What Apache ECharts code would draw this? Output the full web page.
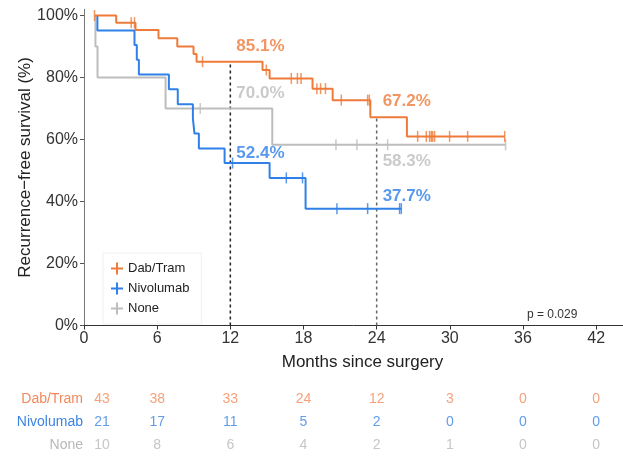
<!DOCTYPE html>
<html>
<head>
<meta charset="utf-8">
<script src="https://cdn.jsdelivr.net/npm/echarts@6/dist/echarts.min.js"></script>
<style>html,body{margin:0;padding:0;background:#fff}#c{width:623px;height:456px}</style>
</head>
<body>
<div id="c"></div>
<script>
// ---------- data ----------
const seriesNames = ['Dab/Tram', 'Nivolumab', 'None'];

const dabTimes = [0.9, 2.64, 4.22, 6.11, 7.65, 8.98, 9.23, 14.64, 15.22, 18.74, 20.39, 23.48, 26.48, 34.5];
const dabSurv  = [100, 97.7, 95.3, 92.7, 90.0, 87.6, 85.1, 82.4, 79.7, 76.4, 72.7, 67.2, 61.0, 61.0];
const dabCensor = [0.86, 3.87, 4.14, 9.72, 14.95, 17.0, 17.5, 17.8, 19.1, 19.4, 19.8, 21.1, 23.26, 23.4, 27.36, 28.07, 28.34, 28.48, 28.59, 28.75, 29.98, 31.46, 34.5];

const nivoTimes = [1.1, 1.1, 4.14, 4.33, 4.5, 6.96, 7.69, 8.93, 9.06, 9.42, 11.53, 15.22, 18.17, 26.02];
const nivoSurv  = [100, 95.2, 90.5, 85.7, 81.0, 76.2, 71.4, 66.7, 61.9, 57.1, 52.4, 47.6, 37.7, 37.7];
const nivoCensor = [12.18, 16.59, 17.92, 20.74, 23.26, 25.88, 26.02];

const noneTimes = [0.94, 0.94, 1.11, 6.69, 15.44, 34.57];
const noneSurv  = [100, 90, 80, 70, 58.3, 58.3];
const noneCensor = [9.53, 20.66, 22.38, 24.9, 34.57];

const landmarkMonths = [12, 24];
const dabLandmark  = [85.1, 67.2];
const nivoLandmark = [52.4, 37.7];
const noneLandmark = [70.0, 58.3];

const xTicks = [0, 6, 12, 18, 24, 30, 36, 42];
const yTicks = [0, 20, 40, 60, 80, 100];

const riskMonths = [0, 6, 12, 18, 24, 30, 36, 42];
const riskDab  = [43, 38, 33, 24, 12, 3, 0, 0];
const riskNivo = [21, 17, 11, 5, 2, 0, 0, 0];
const riskNone = [10, 8, 6, 4, 2, 1, 0, 0];

const pText = 'p = 0.029';

// ---------- style ----------
const C_DAB = '#EE7B3A', C_NIVO = '#2F80E8', C_NONE = '#BDBDBD';
const T_DAB = '#F2895C', T_NIVO = '#3A84E4', T_NONE = '#B8B8B8';
const FONT = '"Liberation Sans", Arial, sans-serif';
const PLUS = 'path://M5,0 L7,0 L7,5 L12,5 L12,7 L7,7 L7,12 L5,12 L5,7 L0,7 L0,5 L5,5 Z';
const XMAX = 44.2;

function pts(times, surv) { return times.map((t, i) => [t, surv[i]]); }
function survAt(times, surv, t) {
  let v = surv[0];
  for (let i = 0; i < times.length; i++) if (times[i] <= t) v = surv[i];
  return v;
}
function censorPts(c, times, surv) { return c.map(t => [t, survAt(times, surv, t)]); }

function stepSeries(name, times, surv, color) {
  return { name, type: 'line', step: 'end', xAxisIndex: 0, yAxisIndex: 0,
    data: pts(times, surv), showSymbol: false, symbol: 'none',
    lineStyle: { color, width: 2 }, itemStyle: { color }, animation: false, z: 3 };
}
function censorSeries(name, c, times, surv, color) {
  return { name: name + ' censored', type: 'scatter', xAxisIndex: 0, yAxisIndex: 0,
    data: censorPts(c, times, surv), symbol: 'rect', symbolSize: [1.5, 11],
    itemStyle: { color }, animation: false, silent: true, z: 4 };
}
function annotSeries(vals, color, offsets) {
  return { type: 'scatter', xAxisIndex: 0, yAxisIndex: 0, symbolSize: 0, silent: true, animation: false, z: 6,
    data: landmarkMonths.map((m, i) => ({ value: [m, vals[i]],
      label: { show: true, position: [6, offsets[i]], align: 'left', verticalAlign: 'middle',
        formatter: vals[i].toFixed(1) + '%', color, fontSize: 17, fontWeight: 'bold', fontFamily: FONT } })) };
}
const landmarkTop = landmarkMonths.map((m, i) => Math.max(dabLandmark[i], nivoLandmark[i], noneLandmark[i]));
const dashColors = ['#222', '#666'];
const dashSeries = landmarkMonths.map((m, i) => ({
  type: 'line', xAxisIndex: 0, yAxisIndex: 0, data: [[m, 0], [m, landmarkTop[i]]], symbol: 'none',
  lineStyle: { color: dashColors[i], width: 1.5, type: [3, 3] }, animation: false, silent: true, z: 2 }));

const riskRows = [riskDab, riskNivo, riskNone];
const riskColors = [T_DAB, T_NIVO, T_NONE];
const riskSeries = riskRows.map((row, r) => ({
  type: 'scatter', xAxisIndex: 1, yAxisIndex: 1, symbolSize: 0, silent: true, animation: false,
  data: riskMonths.map((m, i) => ({ value: [m, r, row[i]],
    label: { show: true, position: 'inside', offset: [i === 0 ? 18 : 0, 0], formatter: String(row[i]),
      color: riskColors[r], fontSize: 14, fontFamily: FONT } }))
}));

const chart = echarts.init(document.getElementById('c'), null, { renderer: 'canvas' });
chart.setOption({
  animation: false,
  textStyle: { fontFamily: FONT },
  title: { text: pText, left: 522, top: 304, textStyle: { fontSize: 12, fontWeight: 'normal', color: '#333', fontFamily: FONT } },
  legend: {
    data: seriesNames.map(n => ({ name: n, icon: PLUS })),
    orient: 'vertical', left: 103, top: 253, padding: [9, 12, 9, 8],
    itemWidth: 12, itemHeight: 12, itemGap: 7,
    borderColor: '#f0f0f0', borderWidth: 1, backgroundColor: '#fff',
    textStyle: { fontSize: 13, color: '#222', fontFamily: FONT }
  },
  grid: [
    { left: 84, right: 0, top: 9.3, bottom: 130.5 },
    { left: 84, right: 0, top: 388, height: 68 }
  ],
  xAxis: [
    { type: 'value', gridIndex: 0, min: 0, max: XMAX,
      name: 'Months since surgery', nameLocation: 'middle', nameGap: 28,
      nameTextStyle: { fontSize: 17, color: '#222', padding: [0, 0, 0, 18], fontFamily: FONT },
      axisLine: { show: true, lineStyle: { color: '#333', width: 1 } },
      axisTick: { show: true, length: 4, customValues: xTicks, lineStyle: { color: '#333' } },
      axisLabel: { customValues: xTicks, fontSize: 16, color: '#333', margin: 5, fontFamily: FONT },
      splitLine: { show: false } },
    { type: 'value', gridIndex: 1, min: 0, max: XMAX, show: false }
  ],
  yAxis: [
    { type: 'value', gridIndex: 0, min: 0, max: 102,
      name: 'Recurrence\u2212free survival (%)', nameLocation: 'middle', nameGap: 50, nameMoveOverlap: false,
      nameTextStyle: { fontSize: 17, color: '#222', fontFamily: FONT },
      axisLine: { show: true, lineStyle: { color: '#777', width: 1 } },
      axisTick: { show: true, length: 4, customValues: yTicks, lineStyle: { color: '#555' } },
      axisLabel: { customValues: yTicks, formatter: '{value}%', fontSize: 16, color: '#333', margin: 6, fontFamily: FONT },
      splitLine: { show: false } },
    { type: 'category', gridIndex: 1, data: seriesNames, inverse: true,
      axisLine: { show: false }, axisTick: { show: false }, splitLine: { show: false },
      axisLabel: { margin: 1, fontSize: 14, fontFamily: FONT,
        formatter: (v, i) => '{r' + i + '|' + v + '}',
        rich: { r0: { color: T_DAB, fontSize: 14 }, r1: { color: T_NIVO, fontSize: 14 }, r2: { color: T_NONE, fontSize: 14 } } } }
  ],
  series: [
    ...dashSeries,
    stepSeries('None', noneTimes, noneSurv, C_NONE),
    censorSeries('None', noneCensor, noneTimes, noneSurv, C_NONE),
    stepSeries('Nivolumab', nivoTimes, nivoSurv, C_NIVO),
    censorSeries('Nivolumab', nivoCensor, nivoTimes, nivoSurv, C_NIVO),
    stepSeries('Dab/Tram', dabTimes, dabSurv, C_DAB),
    censorSeries('Dab/Tram', dabCensor, dabTimes, dabSurv, C_DAB),
    annotSeries(dabLandmark, C_DAB, [-15, -15.5]),
    annotSeries(noneLandmark, C_NONE, [-15, 17]),
    annotSeries(nivoLandmark, C_NIVO, [-10, -12.5]),
    ...riskSeries
  ]
});
</script>
</body>
</html>
